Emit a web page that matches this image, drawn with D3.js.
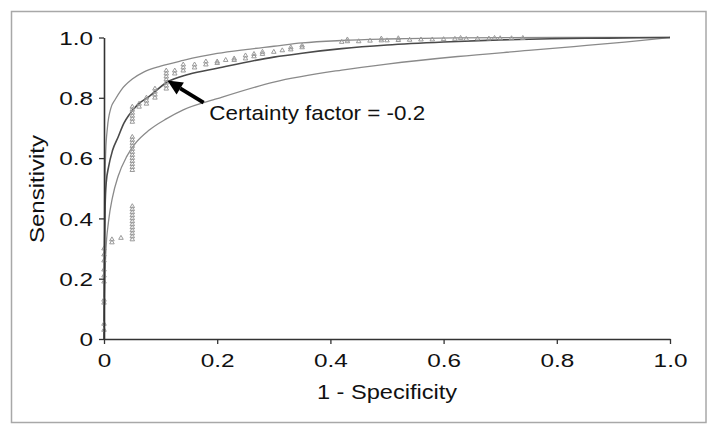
<!DOCTYPE html>
<html><head><meta charset="utf-8">
<script src="https://cdn.jsdelivr.net/npm/d3@7"></script>
<style>body{margin:0;background:#fff}svg{display:block}text{font-family:"Liberation Sans",Arial,Helvetica,sans-serif;fill:#111}</style>
</head><body><svg id="c" width="714" height="434"></svg>
<script>
// ---- data ----
const xTicks = [0, 0.2, 0.4, 0.6, 0.8, 1.0];
const yTicks = [0, 0.2, 0.4, 0.6, 0.8, 1.0];
const xTickLabels = ["0", "0.2", "0.4", "0.6", "0.8", "1.0"];
const yTickLabels = ["0", "0.2", "0.4", "0.6", "0.8", "1.0"];
const xTitle = "1 - Specificity";
const yTitle = "Sensitivity";

const upperCurve = [[0,0],[0.001,0.45],[0.003,0.62],[0.006,0.70],[0.012,0.765],[0.02,0.795],[0.03,0.825],[0.05,0.862],[0.07,0.885],[0.1,0.905],[0.14,0.924],[0.2,0.947],[0.25,0.96],[0.3,0.971],[0.35,0.982],[0.42,0.99],[0.5,0.995],[0.62,0.999],[0.8,1.0],[1.0,1.0]];
const middleCurve = [[0,0],[0.001,0.3],[0.002,0.44],[0.004,0.52],[0.008,0.57],[0.015,0.625],[0.025,0.67],[0.035,0.715],[0.045,0.745],[0.06,0.778],[0.08,0.805],[0.11,0.85],[0.15,0.878],[0.2,0.898],[0.3,0.935],[0.35,0.948],[0.42,0.963],[0.5,0.975],[0.6,0.985],[0.7,0.992],[0.79,0.996],[0.89,0.998],[1.0,1.0]];
const lowerCurve = [[0,0],[0.001,0.15],[0.003,0.28],[0.008,0.39],[0.015,0.47],[0.025,0.54],[0.04,0.605],[0.055,0.648],[0.08,0.693],[0.11,0.73],[0.14,0.76],[0.2,0.797],[0.3,0.852],[0.42,0.892],[0.5,0.912],[0.625,0.937],[0.75,0.957],[0.83,0.97],[0.92,0.985],[1.0,1.0]];

const markerPoints = [
  [0,0.03],[0,0.05],[0,0.12],[0,0.13],[0,0.19],[0,0.21],[0,0.23],[0,0.26],[0,0.28],[0,0.30],
  [0.014,0.32],[0.014,0.33],[0.03,0.335],
  [0.05,0.33],[0.05,0.34],[0.05,0.35],[0.05,0.36],[0.05,0.37],[0.05,0.38],[0.05,0.39],[0.05,0.40],[0.05,0.41],[0.05,0.42],[0.05,0.43],[0.05,0.44],
  [0.05,0.56],[0.05,0.57],[0.05,0.58],[0.05,0.59],[0.05,0.60],[0.05,0.61],[0.05,0.62],[0.05,0.63],[0.05,0.64],[0.05,0.65],[0.05,0.66],[0.05,0.67],
  [0.05,0.72],[0.05,0.73],[0.05,0.74],[0.05,0.75],[0.05,0.76],[0.05,0.77],
  [0.062,0.77],[0.062,0.78],
  [0.075,0.78],[0.075,0.79],[0.075,0.80],
  [0.09,0.80],[0.09,0.81],[0.09,0.82],[0.09,0.83],
  [0.11,0.83],[0.11,0.84],[0.11,0.85],[0.11,0.86],[0.11,0.87],[0.11,0.88],[0.11,0.89],
  [0.125,0.88],[0.125,0.89],
  [0.14,0.89],[0.14,0.90],[0.14,0.91],
  [0.16,0.90],[0.16,0.91],
  [0.18,0.91],[0.18,0.92],
  [0.2,0.915],[0.2,0.92],
  [0.215,0.925],
  [0.23,0.925],[0.23,0.93],
  [0.25,0.93],[0.25,0.94],
  [0.265,0.937],[0.265,0.945],
  [0.28,0.945],[0.28,0.952],
  [0.3,0.952],
  [0.315,0.957],
  [0.33,0.96],[0.33,0.967],
  [0.35,0.967],[0.35,0.973],
  [0.42,0.985],[0.43,0.987],[0.43,0.993],[0.45,0.987],[0.47,0.989],[0.49,0.99],[0.49,0.996],[0.5,0.99],
  [0.52,0.991],[0.52,0.997],[0.54,0.992],[0.56,0.993],[0.58,0.993],[0.6,0.994],[0.62,0.995],[0.63,0.998],
  [0.64,0.995],[0.66,0.996],[0.68,0.996],[0.69,0.998],[0.7,0.997],[0.72,0.997],[0.74,0.998]
];

const annotationText = "Certainty factor = -0.2";
const arrowFrom = [0.176, 0.784];
const arrowTo = [0.112, 0.857];
const labelAt = [0.186, 0.726];

// ---- layout ----
const svg = d3.select("#c");
const X0 = 104, X1 = 670, Y0 = 339, Y1 = 37.5;
const SX = 1.28; // horizontal stretch of the original figure's text
const x = d3.scaleLinear().domain([0, 1]).range([X0, X1]);
const y = d3.scaleLinear().domain([0, 1]).range([Y0, Y1]);

// outer frame
svg.append("rect").attr("x", 11.5).attr("y", 11.5).attr("width", 694.5).attr("height", 411)
  .attr("fill", "none").attr("stroke", "#a8a8a8").attr("stroke-width", 1.5);

// curves
const line = d3.line().x(d => x(d[0])).y(d => y(d[1])).curve(d3.curveMonotoneX);
svg.append("path").datum(lowerCurve).attr("d", line).attr("fill", "none").attr("stroke", "#8a8a8a").attr("stroke-width", 1.3);
svg.append("path").datum(upperCurve).attr("d", line).attr("fill", "none").attr("stroke", "#8a8a8a").attr("stroke-width", 1.3);
svg.append("path").datum(middleCurve).attr("d", line).attr("fill", "none").attr("stroke", "#4a4a4a").attr("stroke-width", 1.6);

// markers
const tri = d3.symbol().type(d3.symbolTriangle).size(9);
svg.append("g").selectAll("path").data(markerPoints).join("path")
  .attr("transform", d => `translate(${x(d[0])},${y(d[1])})`)
  .attr("d", tri).attr("fill", "none").attr("stroke", "#9a9a9a").attr("stroke-width", 1);

// axes
const xAxis = d3.axisBottom(x).tickValues(xTicks).tickFormat((d, i) => xTickLabels[i]).tickSize(5).tickSizeOuter(0);
const yAxis = d3.axisLeft(y).tickValues(yTicks).tickFormat((d, i) => yTickLabels[i]).tickSize(5).tickSizeOuter(0);
const gx = svg.append("g").attr("transform", `translate(0,${Y0})`).call(xAxis);
const gy = svg.append("g").attr("transform", `translate(${X0},0)`).call(yAxis);
[gx, gy].forEach(g => {
  g.select(".domain").attr("stroke", "#333").attr("stroke-width", 1.6);
  g.selectAll(".tick line").attr("stroke", "#333").attr("stroke-width", 1.3);
  g.selectAll(".tick text").attr("font-size", 19).attr("fill", "#111")
    .attr("font-family", '"Liberation Sans",Arial,sans-serif');
});
gx.selectAll(".tick text").attr("y", 0).attr("dy", 0)
  .attr("transform", `translate(0,27.5) scale(${SX},1)`);
gy.selectAll(".tick text").attr("x", 0).attr("dy", "0.36em")
  .attr("transform", `translate(-11,0) scale(${SX},1)`);

// axis titles
svg.append("text").attr("transform", `translate(${(X0 + X1) / 2},399) scale(1.18,1)`)
  .attr("text-anchor", "middle").attr("font-size", 20).text(xTitle);
svg.append("text").attr("transform", `translate(44,189) rotate(-90)`)
  .attr("text-anchor", "middle").attr("font-size", 20).attr("textLength", 108).attr("lengthAdjust", "spacingAndGlyphs").text(yTitle);

// annotation arrow
const ax1 = x(arrowFrom[0]), ay1 = y(arrowFrom[1]), ax2 = x(arrowTo[0]), ay2 = y(arrowTo[1]);
const ang = Math.atan2(ay2 - ay1, ax2 - ax1);
const headL = 15, headW = 7;
const bx = ax2 - headL * Math.cos(ang), by = ay2 - headL * Math.sin(ang);
svg.append("line").attr("x1", ax1).attr("y1", ay1).attr("x2", bx).attr("y2", by)
  .attr("stroke", "#000").attr("stroke-width", 4);
svg.append("path").attr("d", d3.line()([
  [ax2, ay2],
  [bx + headW * Math.sin(ang), by - headW * Math.cos(ang)],
  [bx - headW * Math.sin(ang), by + headW * Math.cos(ang)]
])).attr("fill", "#000");
svg.append("text").attr("transform", `translate(${x(labelAt[0])},${y(labelAt[1])}) scale(1.12,1)`)
  .attr("font-size", 20).text(annotationText);
</script></body></html>
